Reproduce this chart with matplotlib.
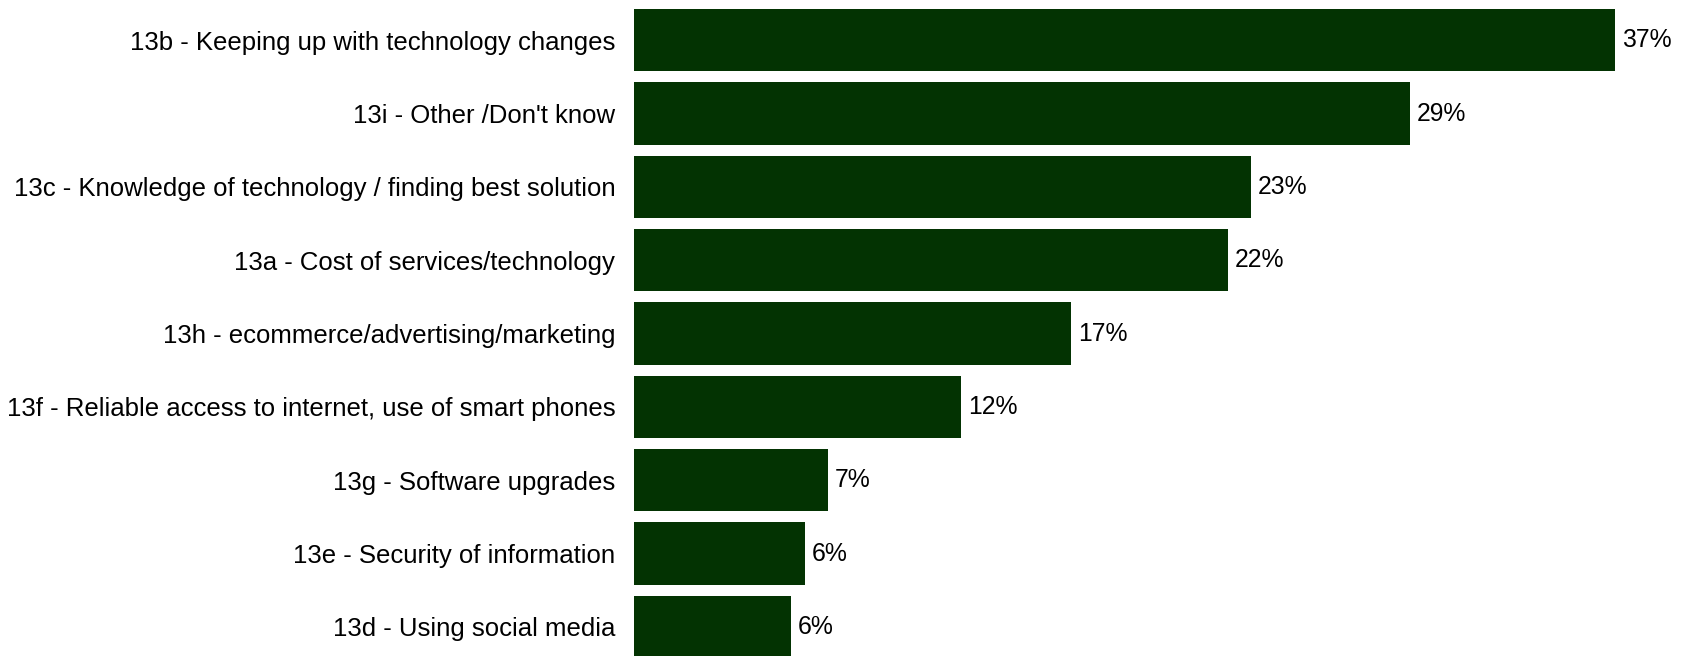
import matplotlib.pyplot as plt

categories = [
    "13b - Keeping up with technology changes",
    "13i - Other /Don't know",
    "13c - Knowledge of technology / finding best solution",
    "13a - Cost of services/technology",
    "13h - ecommerce/advertising/marketing",
    "13f - Reliable access to internet, use of smart phones",
    "13g - Software upgrades",
    "13e - Security of information",
    "13d - Using social media",
]
values = [37.0, 29.26, 23.27, 22.4, 16.48, 12.33, 7.32, 6.44, 5.91]
value_labels = ["37%", "29%", "23%", "22%", "17%", "12%", "7%", "6%", "6%"]

plt.rcParams["font.family"] = ["Liberation Sans", "DejaVu Sans"]

W, H = 1686, 656
fig = plt.figure(figsize=(W / 100, H / 100), dpi=100)
ax = fig.add_axes([634 / W, 0, 1 - 634 / W, 1])

ypos = list(range(len(categories)))
ax.barh(ypos, values, height=0.85, color="#033302")

ax.set_xlim(0, (W - 634) / 26.51)
ax.set_ylim(8.396, -0.55)

for y, v, lab in zip(ypos, values, value_labels):
    ax.text(v + 0.27, y, lab, va="center", ha="left", fontsize=17.8, color="black")

ax.set_yticks(ypos)
ax.set_yticklabels(categories, fontsize=18.5)
ax.tick_params(axis="y", length=0, pad=13.5)
ax.set_xticks([])
for s in ax.spines.values():
    s.set_visible(False)

fig.savefig("out.png", dpi=100)
